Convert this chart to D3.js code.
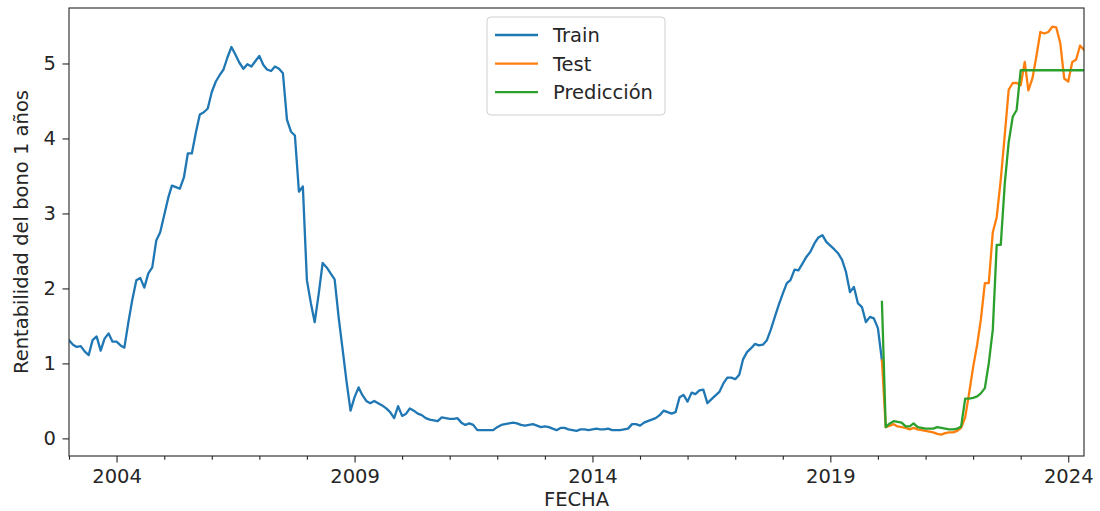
<!DOCTYPE html>
<html>
<head>
<meta charset="utf-8">
<script src="https://cdn.jsdelivr.net/npm/d3@7/dist/d3.min.js"></script>
<style>
  body { margin: 0; background: #ffffff; }
  svg { display: block; }
  text { font-family: "DejaVu Sans", sans-serif; }
</style>
</head>
<body>
<svg id="chart" width="1100" height="511"></svg>
<script>
// Monthly 1-year bond yield (%), training part: 2003-01 .. 2020-02
const trainFirstMonth = "2003-01";
const trainValues = [
  1.31, 1.25, 1.22, 1.23, 1.16, 1.11, 1.31, 1.36, 1.17, 1.33, 1.40, 1.29, // 2003
  1.29, 1.24, 1.21, 1.55, 1.85, 2.11, 2.14, 2.01, 2.20, 2.28, 2.64, 2.75, // 2004
  2.98, 3.21, 3.37, 3.35, 3.33, 3.48, 3.80, 3.80, 4.08, 4.32, 4.35, 4.40, // 2005
  4.62, 4.76, 4.84, 4.92, 5.08, 5.22, 5.12, 5.01, 4.93, 4.99, 4.96, 5.03, // 2006
  5.10, 4.98, 4.92, 4.90, 4.96, 4.93, 4.87, 4.25, 4.09, 4.04, 3.29, 3.36, // 2007
  2.11, 1.80, 1.55, 1.93, 2.34, 2.28, 2.20, 2.12, 1.61, 1.19, 0.75, 0.37, // 2008
  0.55, 0.68, 0.58, 0.50, 0.47, 0.50, 0.47, 0.44, 0.40, 0.35, 0.27, 0.43, // 2009
  0.30, 0.33, 0.40, 0.37, 0.33, 0.31, 0.27, 0.25, 0.24, 0.23, 0.28, 0.27, // 2010
  0.26, 0.26, 0.27, 0.21, 0.18, 0.20, 0.18, 0.11, 0.11, 0.11, 0.11, 0.11, // 2011
  0.15, 0.18, 0.19, 0.20, 0.21, 0.20, 0.18, 0.17, 0.18, 0.19, 0.17, 0.15, // 2012
  0.16, 0.15, 0.13, 0.11, 0.14, 0.14, 0.12, 0.11, 0.10, 0.12, 0.12, 0.11, // 2013
  0.12, 0.13, 0.12, 0.12, 0.13, 0.11, 0.11, 0.11, 0.12, 0.13, 0.19, 0.19, // 2014
  0.17, 0.21, 0.23, 0.25, 0.27, 0.31, 0.37, 0.35, 0.33, 0.35, 0.55, 0.58, // 2015
  0.49, 0.61, 0.59, 0.64, 0.65, 0.47, 0.52, 0.57, 0.62, 0.73, 0.81, 0.81, // 2016
  0.79, 0.85, 1.05, 1.15, 1.20, 1.26, 1.24, 1.25, 1.31, 1.45, 1.62, 1.78, // 2017
  1.93, 2.07, 2.11, 2.25, 2.24, 2.33, 2.42, 2.49, 2.60, 2.68, 2.71, 2.62, // 2018
  2.57, 2.52, 2.47, 2.38, 2.22, 1.95, 2.02, 1.80, 1.75, 1.55, 1.62, 1.60, // 2019
  1.47, 1.04                                                              // 2020
];

// Test part and model prediction: 2020-02 .. 2024-05
const testFirstMonth = "2020-02";
const testValues = [
  1.04, 0.15, 0.17, 0.19, 0.16, 0.15, 0.14, 0.12, 0.14, 0.12, 0.11,       // 2020
  0.10, 0.09, 0.08, 0.06, 0.05, 0.07, 0.08, 0.08, 0.10, 0.14, 0.28, 0.60, // 2021
  0.95, 1.25, 1.58, 2.07, 2.07, 2.75, 2.95, 3.45, 4.05, 4.65, 4.74, 4.74, // 2022
  4.71, 5.02, 4.64, 4.80, 5.09, 5.42, 5.40, 5.42, 5.49, 5.48, 5.27, 4.80, // 2023
  4.76, 5.02, 5.05, 5.24, 5.18                                            // 2024
];
const predValues = [
  1.82, 0.15, 0.20, 0.23, 0.22, 0.21, 0.16, 0.16, 0.20, 0.15, 0.14,       // 2020
  0.13, 0.13, 0.13, 0.15, 0.14, 0.13, 0.12, 0.12, 0.13, 0.16, 0.53, 0.53, // 2021
  0.54, 0.56, 0.60, 0.67, 1.00, 1.45, 2.58, 2.58, 3.40, 3.95, 4.29, 4.38, // 2022
  4.91, 4.91, 4.91, 4.91, 4.91, 4.91, 4.91, 4.91, 4.91, 4.91, 4.91, 4.91, // 2023
  4.91, 4.91, 4.91, 4.91, 4.91                                            // 2024
];

const seriesNames = ["Train", "Test", "Predicción"];
const seriesColors = ["#1f77b4", "#ff7f0e", "#2ca02c"];
const yTickValues = [0, 1, 2, 3, 4, 5];
const majorYears = [2004, 2009, 2014, 2019, 2024];
const yLimits = [-0.235, 5.74];
const xLabel = "FECHA";
const yLabel = "Rentabilidad del bono 1 años";

// ---- layout ----
const W = 1100, H = 511;
const margin = { left: 69, right: 16, top: 8, bottom: 55 };
const FONT = 19.5;
const INK = "#262626";
const LINE_W = 2.3;

const parseMonth = d3.timeParse("%Y-%m");
function monthly(first, values) {
  const t0 = parseMonth(first);
  return values.map((v, i) => ({ date: d3.timeMonth.offset(t0, i), value: v }));
}
const train = monthly(trainFirstMonth, trainValues);
const test = monthly(testFirstMonth, testValues);
const pred = monthly(testFirstMonth, predValues);

const svg = d3.select("#chart");
svg.append("rect").attr("width", W).attr("height", H).attr("fill", "#fff");

const x = d3.scaleTime()
  .domain([train[0].date, test[test.length - 1].date])
  .range([margin.left, W - margin.right]);
const y = d3.scaleLinear()
  .domain(yLimits)
  .range([H - margin.bottom, margin.top]);

// minor ticks every January, major ticks every five years
const allYears = d3.timeYear.range(x.domain()[0], d3.timeDay.offset(x.domain()[1], 1));
const majorDates = majorYears.map(yr => new Date(yr, 0, 1));
const minorDates = allYears.filter(d => !majorYears.includes(d.getFullYear()));

function styleAxis(g) {
  g.select(".domain").remove();
  g.selectAll(".tick line").attr("stroke", INK).attr("stroke-width", 1.1);
  g.selectAll(".tick text").attr("fill", INK).attr("font-size", FONT)
    .attr("font-family", "DejaVu Sans, sans-serif");
}

svg.append("g")
  .attr("transform", `translate(0,${H - margin.bottom})`)
  .call(d3.axisBottom(x).tickValues(minorDates).tickSize(3.7).tickFormat(""))
  .call(styleAxis);

svg.append("g")
  .attr("transform", `translate(0,${H - margin.bottom})`)
  .call(d3.axisBottom(x).tickValues(majorDates).tickSize(6.5).tickPadding(6.5)
    .tickFormat(d3.timeFormat("%Y")))
  .call(styleAxis);

svg.append("g")
  .attr("transform", `translate(${margin.left},0)`)
  .call(d3.axisLeft(y).tickValues(yTickValues).tickSize(6.5).tickPadding(6.5)
    .tickFormat(d3.format("d")))
  .call(styleAxis);

// series lines, clipped to the plotting area
svg.append("clipPath").attr("id", "plot-clip")
  .append("rect")
  .attr("x", margin.left).attr("y", margin.top)
  .attr("width", W - margin.left - margin.right)
  .attr("height", H - margin.top - margin.bottom);

const line = d3.line().x(d => x(d.date)).y(d => y(d.value));
const plot = svg.append("g").attr("clip-path", "url(#plot-clip)");
[train, test, pred].forEach((series, k) => {
  plot.append("path")
    .datum(series)
    .attr("d", line)
    .attr("fill", "none")
    .attr("stroke", seriesColors[k])
    .attr("stroke-width", LINE_W)
    .attr("stroke-linejoin", "round")
    .attr("stroke-linecap", "square");
});

// axes frame
svg.append("rect")
  .attr("x", margin.left).attr("y", margin.top)
  .attr("width", W - margin.left - margin.right)
  .attr("height", H - margin.top - margin.bottom)
  .attr("fill", "none").attr("stroke", INK).attr("stroke-width", 1.1);

// axis titles
svg.append("text")
  .attr("x", (margin.left + W - margin.right) / 2)
  .attr("y", 506)
  .attr("text-anchor", "middle")
  .attr("font-size", FONT).attr("fill", INK)
  .text(xLabel);

svg.append("text")
  .attr("transform", `translate(28,${(margin.top + H - margin.bottom) / 2}) rotate(-90)`)
  .attr("text-anchor", "middle")
  .attr("font-size", FONT).attr("fill", INK)
  .text(yLabel);

// legend
const legend = svg.append("g").attr("transform", "translate(487,17)");
legend.append("rect")
  .attr("width", 178).attr("height", 98).attr("rx", 4)
  .attr("fill", "#fff").attr("fill-opacity", 0.8)
  .attr("stroke", "#d0d0d0").attr("stroke-width", 1);
seriesNames.forEach((name, k) => {
  const rowY = 18 + k * 28.6;
  legend.append("line")
    .attr("x1", 8).attr("x2", 51).attr("y1", rowY).attr("y2", rowY)
    .attr("stroke", seriesColors[k]).attr("stroke-width", LINE_W);
  legend.append("text")
    .attr("x", 66).attr("y", rowY + 7)
    .attr("font-size", FONT).attr("fill", INK)
    .text(name);
});
</script>
</body>
</html>
